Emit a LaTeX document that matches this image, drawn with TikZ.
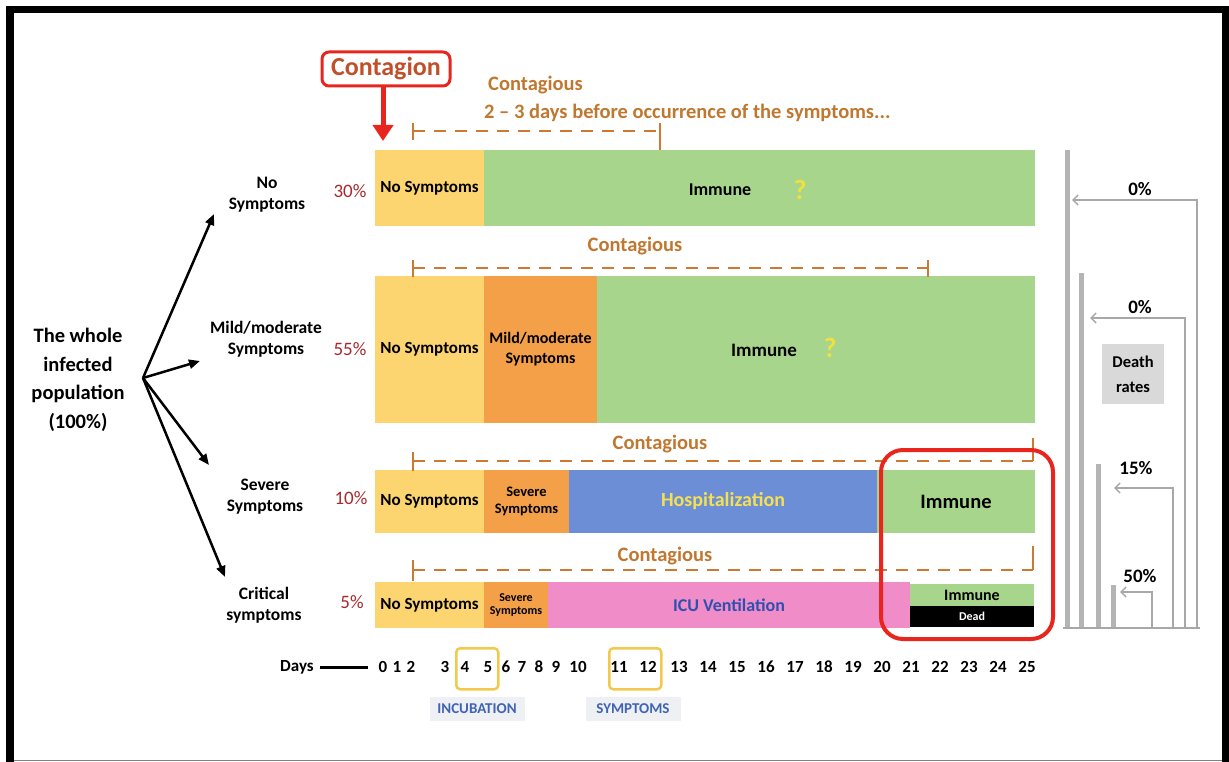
\documentclass[tikz,border=0pt]{standalone}
\usepackage{fontspec}
\setmainfont{Carlito}
\usetikzlibrary{arrows.meta}
\definecolor{cyel}{HTML}{FCD470}
\definecolor{corg}{HTML}{F4A048}
\definecolor{cgrn}{HTML}{A8D58C}
\definecolor{cblu}{HTML}{6C8ED6}
\definecolor{cpnk}{HTML}{F08CC8}
\definecolor{cred}{HTML}{E8261E}
\definecolor{ccontag}{HTML}{C0502A}
\definecolor{cbrown}{HTML}{C0772F}
\definecolor{cdash}{HTML}{CC7A33}
\definecolor{cpct}{HTML}{A8282C}
\definecolor{cgbar}{HTML}{B4B4B4}
\definecolor{cgline}{HTML}{A8A8A8}
\definecolor{cybox}{HTML}{F2C94C}
\definecolor{cgbg}{HTML}{EEF0F4}
\definecolor{cblue2}{HTML}{4064B4}
\definecolor{chosp}{HTML}{F5E050}
\definecolor{cicu}{HTML}{3050B0}
\definecolor{cq}{HTML}{F0E040}
\definecolor{cdeath}{HTML}{D9D9D9}
\begin{document}
\begin{tikzpicture}[x=1pt,y=-1pt,
  seg/.style={inner sep=0pt, outer sep=0pt, anchor=north west, align=center},
  lbl/.style={font=\bfseries\fontsize{17.5}{21}\selectfont, align=center, inner sep=0pt},
  pct/.style={font=\fontsize{19}{22}\selectfont, text=cpct, inner sep=0pt},
  in15/.style={font=\bfseries\fontsize{17}{19}\selectfont},
  contag/.style={font=\bfseries\fontsize{20.5}{23}\selectfont, text=cbrown, inner sep=0pt},
  dashln/.style={draw=cdash, line width=2.5pt, dash pattern=on 12pt off 9pt},
  tickln/.style={draw=cdash, line width=2pt},
  popar/.style={-{Triangle[length=11pt,width=9pt]}, line width=2.5pt},
  gbar/.style={fill=cgbar, inner sep=0pt, outer sep=0pt, minimum width=5pt, anchor=south},
  garr/.style={draw=cgline, line width=1.5pt, -{Straight Barb[length=5pt,width=10pt]}},
  dnum/.style={font=\bfseries\fontsize{17}{19}\selectfont, inner sep=0pt},
  drl/.style={font=\bfseries\fontsize{19}{21}\selectfont, inner sep=0pt},
  ybox/.style={draw=cybox, line width=2.5pt, rounded corners=4pt, anchor=north west, inner sep=0pt},
  tagbox/.style={fill=cgbg, text=cblue2, font=\bfseries\fontsize{15}{17}\selectfont, minimum width=95pt, minimum height=24pt, inner sep=0pt}
]
\useasboundingbox (0,0) rectangle (1229,762);
% frame
\fill[black] (6,6) rectangle (14,762);
\fill[black] (6,6) rectangle (1229,13);
\fill[black] (1222,6) rectangle (1229,762);
\draw[gray, line width=1.2pt] (14,760.5) -- (1222,760.5);

% contagion
\node[draw=cred, line width=3pt, rounded corners=7pt, minimum width=128pt, minimum height=34pt, text=ccontag, font=\bfseries\fontsize{26}{28}\selectfont, inner sep=0pt] (cont) at (386,69) {Contagion};
\coordinate (carrow) at (383,141);
\draw[cred, line width=5pt, -{Triangle[length=16pt,width=20pt]}] (cont.south -| carrow) -- (carrow);
\node[contag, anchor=west] (ct1) at (488,85) {Contagious};
\node[contag, anchor=west] (ct1b) at (484,113) {2 – 3 days before occurrence of the symptoms...};

% row 1
\node[seg, fill=cyel, minimum width=109pt, minimum height=76pt, in15] (r1a) at (375,150) {No Symptoms};
\node[seg, fill=cgrn, minimum width=551pt, minimum height=76pt] (r1b) at (484,150) {};
\node[font=\bfseries\fontsize{18}{20}\selectfont, inner sep=0pt] (im1) at (720,190) {Immune};
\node[font=\bfseries\fontsize{28}{30}\selectfont, text=cq, inner sep=0pt] (q1) at (800,190) {?};
% row 2
\node[seg, fill=cyel, minimum width=109pt, minimum height=147pt, in15] (r2a) at (375,276) {No Symptoms};
\node[seg, fill=corg, minimum width=113pt, minimum height=147pt, font=\bfseries\fontsize{16}{20}\selectfont] (r2b) at (484,276) {Mild/moderate\\Symptoms};
\node[seg, fill=cgrn, minimum width=438pt, minimum height=147pt] (r2c) at (597,276) {};
\node[font=\bfseries\fontsize{19}{21}\selectfont, inner sep=0pt] (im2) at (764,350) {Immune};
\node[font=\bfseries\fontsize{28}{30}\selectfont, text=cq, inner sep=0pt] (q2) at (830,348) {?};
% row 3
\node[seg, fill=cyel, minimum width=109pt, minimum height=63pt, in15] (r3a) at (375,470) {No Symptoms};
\node[seg, fill=corg, minimum width=85pt, minimum height=63pt, font=\bfseries\fontsize{14.5}{17}\selectfont] (r3b) at (484,470) {Severe\\Symptoms};
\node[seg, fill=cblu, minimum width=308pt, minimum height=63pt, text=chosp, font=\bfseries\fontsize{20}{22}\selectfont] (r3c) at (569,470) {Hospitalization};
\node[seg, fill=cgrn, minimum width=158pt, minimum height=63pt, font=\bfseries\fontsize{20.5}{22}\selectfont] (r3d) at (877,470) {Immune};
% row 4
\node[seg, fill=cyel, minimum width=109pt, minimum height=46pt, in15] (r4a) at (375,582) {No Symptoms};
\node[seg, fill=corg, minimum width=64pt, minimum height=46pt, font=\bfseries\fontsize{12}{13.5}\selectfont] (r4b) at (484,582) {Severe\\Symptoms};
\node[seg, fill=cpnk, minimum width=362pt, minimum height=46pt, text=cicu, font=\bfseries\fontsize{18}{20}\selectfont] (r4c) at (548,582) {ICU Ventilation};
\node[seg, fill=cgrn, minimum width=124pt, minimum height=22pt, font=\bfseries\fontsize{16}{17}\selectfont] (r4d) at (910,584) {Immune};
\node[seg, fill=black, minimum width=124pt, minimum height=21pt, text=white, font=\bfseries\fontsize{12}{13}\selectfont] (r4e) at (910,606) {Dead};

% contagious dashed lines
\draw[dashln] (413,131) -- (660,131);
\draw[tickln] (413,123) -- (413,140);
\draw[tickln] (660,123) -- (660,150);
\node[contag] (ct2) at (635,246) {Contagious};
\draw[dashln] (413,268) -- (928,268);
\draw[tickln] (413,260) -- (413,277);
\draw[tickln] (928,260) -- (928,277);
\node[contag] (ct3) at (660,444) {Contagious};
\draw[dashln] (413,461) -- (1033,461);
\draw[tickln] (413,452) -- (413,471);
\draw[tickln] (1033,438) -- (1033,461);
\node[contag] (ct4) at (665,556) {Contagious};
\draw[dashln] (413,570) -- (1033,570);
\draw[tickln] (413,560) -- (413,581);
\draw[tickln] (1033,546) -- (1033,570);

% red box
\node[draw=cred, line width=4pt, rounded corners=22pt, minimum width=172pt, minimum height=189pt, anchor=north west, inner sep=0pt] (redbox) at (879,448) {};

% left part
\node[font=\bfseries\fontsize{20.5}{28.5}\selectfont, align=center, inner sep=0pt] (pop) at (78,380) {The whole\\infected\\population\\(100\%)};
\coordinate (hub) at (143,378);
\coordinate (e1) at (214,214);
\coordinate (e2) at (200,361);
\coordinate (e3) at (209,465);
\coordinate (e4) at (225,577);
\draw[popar] (hub) -- (e1);
\draw[popar] (hub) -- (e2);
\draw[popar] (hub) -- (e3);
\draw[popar] (hub) -- (e4);
\node[lbl] (l1) at (267,195) {No\\Symptoms};
\node[lbl] (l2) at (266,339) {Mild/moderate\\Symptoms};
\node[lbl] (l3) at (265,497) {Severe\\Symptoms};
\node[lbl] (l4) at (264,605) {Critical\\symptoms};
\node[pct] (p1) at (350,191) {30\%};
\node[pct] (p2) at (350,349) {55\%};
\node[pct] (p3) at (351,498) {10\%};
\node[pct] (p4) at (352,602) {5\%};

% death rates
\node[gbar, minimum height=478pt] (b1) at (1067,628) {};
\node[gbar, minimum height=355pt] (b2) at (1081,628) {};
\node[gbar, minimum height=164pt] (b3) at (1098,628) {};
\node[gbar, minimum height=43pt] (b4) at (1113,628) {};
\coordinate (bl) at (1063,628);
\coordinate (br) at (1200,628);
\draw[cgline, line width=2pt] (bl) -- (br);
\coordinate (v1) at (1197,628); \coordinate (h1) at (1197,200); \coordinate (t1) at (1072,200);
\coordinate (v2) at (1185,628); \coordinate (h2) at (1185,318); \coordinate (t2) at (1090,318);
\coordinate (v3) at (1173,628); \coordinate (h3) at (1173,488); \coordinate (t3) at (1114,488);
\coordinate (v4) at (1152,628); \coordinate (h4) at (1152,592); \coordinate (t4) at (1120,592);
\draw[garr] (v1) -- (h1) -- (t1);
\draw[garr] (v2) -- (h2) -- (t2);
\draw[garr] (v3) -- (h3) -- (t3);
\draw[garr] (v4) -- (h4) -- (t4);
\node[drl] (d1) at (1140,189) {0\%};
\node[drl] (d2) at (1140,307) {0\%};
\node[fill=cdeath, minimum width=62pt, minimum height=60pt, inner sep=0pt, align=center, font=\bfseries\fontsize{16.5}{25}\selectfont] (dr) at (1133,374) {Death\\rates};
\node[drl] (d3) at (1136,468) {15\%};
\node[drl] (d4) at (1140,576) {50\%};

% days axis
\node[dnum] (days) at (297,667) {Days};
\coordinate (dl1) at (320,667);
\coordinate (dl2) at (368,667);
\draw[line width=3pt] (dl1) -- (dl2);
\foreach \n/\x in {0/383,1/397,2/411,3/445,4/465,5/488,6/506,7/522,8/539,9/556,10/578,11/619,12/648,13/679,14/708,15/737,16/766,17/795,18/824,19/853,20/882,21/911,22/940,23/969,24/998,25/1027}
  \node[dnum] (n\n) at (\x,667) {\n};
\node[ybox, minimum width=42pt, minimum height=41pt] (incb) at (455,647) {};
\node[ybox, minimum width=52pt, minimum height=41pt] (symb) at (608,647) {};
\node[tagbox] (inc) at (477,709) {INCUBATION};
\node[tagbox] (sym) at (633,709) {SYMPTOMS};
\end{tikzpicture}
\end{document}
